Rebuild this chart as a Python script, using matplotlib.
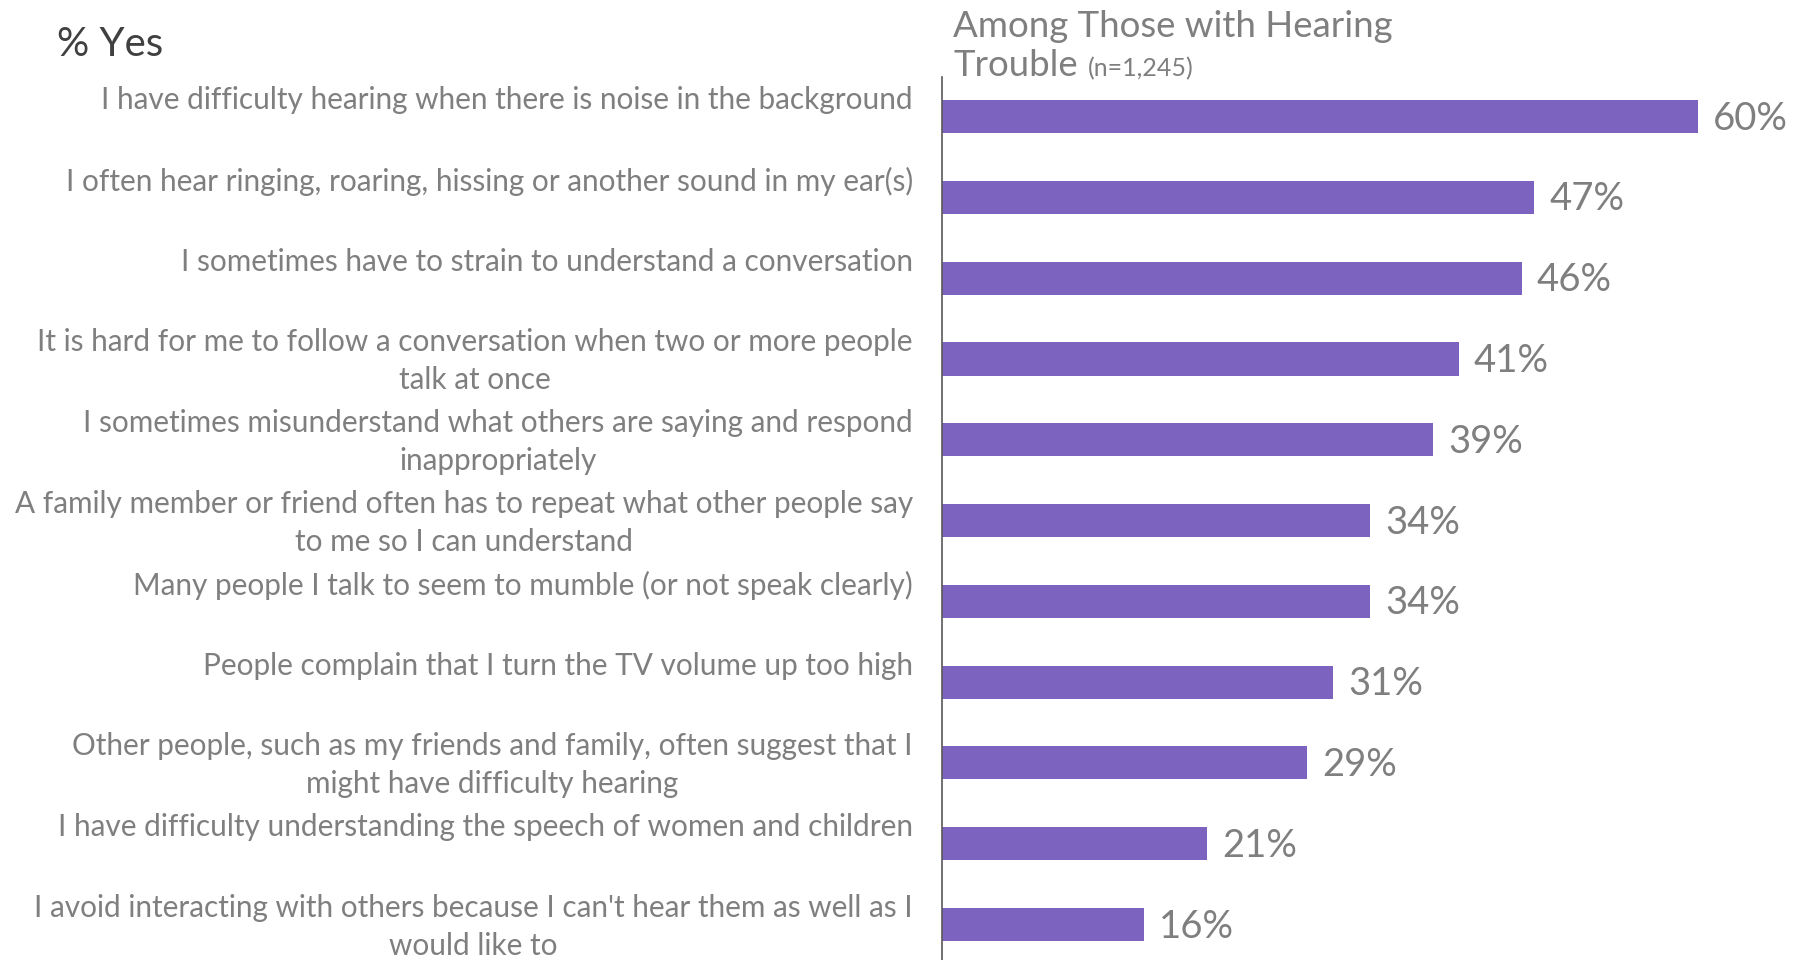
import matplotlib

matplotlib.use('Agg')
import matplotlib.pyplot as plt

plt.rcParams['font.family'] = ['Lato', 'DejaVu Sans']

STATEMENTS = [
    "I have difficulty hearing when there is noise in the background",
    "I often hear ringing, roaring, hissing or another sound in my ear(s)",
    "I sometimes have to strain to understand a conversation",
    "It is hard for me to follow a conversation when two or more people\ntalk at once",
    "I sometimes misunderstand what others are saying and respond\ninappropriately",
    "A family member or friend often has to repeat what other people say\nto me so I can understand",
    "Many people I talk to seem to mumble (or not speak clearly)",
    "People complain that I turn the TV volume up too high",
    "Other people, such as my friends and family, often suggest that I\nmight have difficulty hearing",
    "I have difficulty understanding the speech of women and children",
    "I avoid interacting with others because I can't hear them as well as I\nwould like to",
]
PCT_YES = [60, 47, 46, 41, 39, 34, 34, 31, 29, 21, 16]

HEADER_1 = "Among Those with Hearing"
HEADER_2 = "Trouble"
SAMPLE = "(n=1,245)"

BAR_COLOR = '#7B63BF'
TEXT_GREY = '#7F7F7F'

W, H = 1795, 960
fig = plt.figure(figsize=(W / 100, H / 100), dpi=100)
ax = fig.add_axes([942 / W, 0, 1 - 942 / W, 1 - 77 / H])

ypos = list(range(len(PCT_YES)))
ax.barh(ypos, PCT_YES, height=0.41, color=BAR_COLOR, zorder=2)

ax.set_xlim(0, 67.7)
ax.set_ylim(len(PCT_YES) - 1 + 0.44, -0.49)

for s in ['top', 'right', 'bottom']:
    ax.spines[s].set_visible(False)
ax.spines['left'].set_color('#595959')
ax.spines['left'].set_linewidth(1.2)
ax.set_xticks([])
ax.set_yticks([])

# value labels at the end of each bar
for y, v in zip(ypos, PCT_YES):
    ax.annotate(f"{v}%", xy=(v, y), xytext=(11, -1.5), textcoords='offset points',
                ha='left', va='center', fontsize=27.5, color=TEXT_GREY)

# statement labels: first line sits a little above the bar centre
for y, lab in zip(ypos, STATEMENTS):
    ax.annotate(lab, xy=(0, y), xytext=(-21, 22), textcoords='offset points',
                ha='right', va='top', multialignment='center',
                fontsize=21.4, color=TEXT_GREY, linespacing=1.43)

fig.text(57 / W, 1 - 44 / H, "% Yes", fontsize=29, color='#404040',
         ha='left', va='center')

# two-line header, sample size on the second line
fig.text(953 / W, 1 - 37 / H, HEADER_1, fontsize=26.4, color=TEXT_GREY,
         ha='left', va='baseline')
tr = fig.text(953 / W, 1 - 76 / H, HEADER_2, fontsize=26.4, color=TEXT_GREY,
              ha='left', va='baseline')
fig.canvas.draw()
tb = tr.get_window_extent(renderer=fig.canvas.get_renderer())
fig.text((tb.x1 + 10) / W, 1 - 76 / H, SAMPLE, fontsize=18,
         color=TEXT_GREY, ha='left', va='baseline')

fig.savefig('out.png', dpi=100)
